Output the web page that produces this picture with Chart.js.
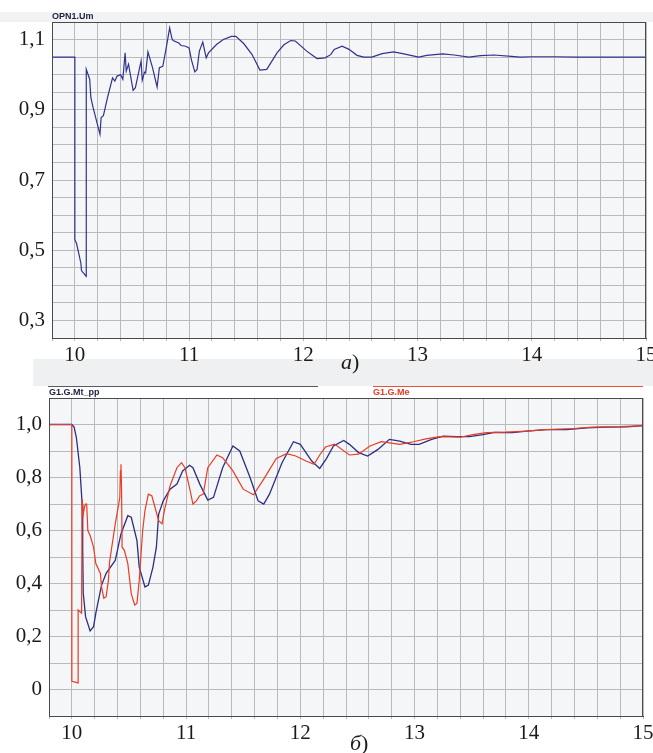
<!DOCTYPE html>
<html>
<head>
<meta charset="utf-8">
<script src="https://cdn.jsdelivr.net/npm/chart.js@4/dist/chart.umd.min.js"></script>
<style>
  html, body { margin:0; padding:0; background:#ffffff; width:653px; height:753px; overflow:hidden; }
  .abs { position:absolute; }
  canvas { position:absolute; left:0; }
  .leg { position:absolute; font-family:"Liberation Sans", Arial, sans-serif; font-weight:bold; font-size:9px; line-height:11px; white-space:nowrap; }
  .cap { position:absolute; font-family:"Liberation Serif", "Times New Roman", serif; font-size:22px; line-height:24px; color:#1a1a1a; }
</style>
</head>
<body>
<div class="abs" style="left:0;top:12px;width:653px;height:10px;background:#f1f2f4;"></div>
<div class="abs" style="left:33px;top:359px;width:620px;height:27px;background:#eff0f2;"></div>
<canvas id="c1" width="653" height="380" style="top:0;"></canvas>
<canvas id="c2" width="653" height="373" style="top:380px;"></canvas>
<div class="leg" style="left:52px;top:11px;color:#1c2040;">OPN1.Um</div>
<div class="abs" style="left:48px;top:386px;width:270px;height:1px;background:#555a66;"></div>
<div class="leg" style="left:49px;top:387px;color:#1c2040;">G1.G.Mt_pp</div>
<div class="abs" style="left:373px;top:386px;width:270px;height:1px;background:#e8503a;"></div>
<div class="leg" style="left:373px;top:387px;color:#e83a22;">G1.G.Me</div>
<div class="cap" style="left:341px;top:350px;"><i>а</i>)</div>
<div class="cap" style="left:350px;top:731px;"><i>б</i>)</div>
<script>
// ---------- data ----------
const xTickLabels = ["10", "11", "12", "13", "14", "15"];
const topYLabels = ["0,3", "0,5", "0,7", "0,9", "1,1"];
const botYLabels = ["0", "0,2", "0,4", "0,6", "0,8", "1,0"];

const umX = [9.8, 10.0, 10.0, 10.015, 10.053, 10.058, 10.096, 10.099, 10.1, 10.13, 10.14, 10.16, 10.22, 10.23, 10.25, 10.29, 10.33, 10.35, 10.37, 10.40, 10.42, 10.44, 10.45, 10.47, 10.51, 10.53, 10.58, 10.59, 10.61, 10.62, 10.64, 10.68, 10.72, 10.74, 10.77, 10.80, 10.83, 10.85, 10.86, 10.91, 10.93, 10.97, 11.0, 11.02, 11.05, 11.07, 11.09, 11.12, 11.15, 11.17, 11.24, 11.30, 11.37, 11.41, 11.48, 11.55, 11.62, 11.68, 11.77, 11.83, 11.89, 11.93, 12.03, 12.12, 12.19, 12.24, 12.27, 12.34, 12.40, 12.47, 12.53, 12.60, 12.69, 12.79, 12.87, 13.01, 13.08, 13.22, 13.32, 13.45, 13.55, 13.67, 13.82, 13.90, 14.0, 14.2, 14.4, 15.0];
const umY = [1.05, 1.05, 0.53, 0.519, 0.463, 0.442, 0.427, 0.425, 1.015, 0.987, 0.935, 0.906, 0.83, 0.878, 0.883, 0.94, 0.991, 0.982, 0.996, 1.0, 0.987, 1.062, 1.01, 1.03, 0.955, 0.963, 1.039, 0.984, 1.007, 1.005, 1.065, 1.02, 0.965, 1.02, 1.024, 1.076, 1.133, 1.103, 1.097, 1.09, 1.083, 1.081, 1.076, 1.043, 1.008, 1.015, 1.067, 1.093, 1.048, 1.062, 1.086, 1.10, 1.109, 1.109, 1.088, 1.058, 1.013, 1.015, 1.062, 1.085, 1.097, 1.096, 1.067, 1.046, 1.048, 1.057, 1.072, 1.081, 1.072, 1.055, 1.05, 1.05, 1.06, 1.065, 1.06, 1.05, 1.055, 1.059, 1.056, 1.05, 1.054, 1.056, 1.052, 1.05, 1.051, 1.051, 1.05, 1.05];

const mtX = [9.8, 10.0, 10.02, 10.04, 10.07, 10.09, 10.095, 10.10, 10.12, 10.16, 10.19, 10.21, 10.26, 10.30, 10.36, 10.38, 10.43, 10.49, 10.52, 10.57, 10.59, 10.64, 10.67, 10.71, 10.74, 10.76, 10.80, 10.86, 10.92, 10.97, 11.03, 11.06, 11.12, 11.19, 11.24, 11.32, 11.41, 11.47, 11.56, 11.63, 11.68, 11.73, 11.84, 11.94, 12.0, 12.10, 12.17, 12.23, 12.29, 12.38, 12.43, 12.51, 12.59, 12.68, 12.78, 12.87, 12.97, 13.04, 13.15, 13.25, 13.37, 13.48, 13.60, 13.70, 13.86, 13.98, 14.15, 14.33, 14.51, 14.68, 14.86, 15.0];
const mtY = [1.0, 1.0, 0.99, 0.95, 0.837, 0.70, 0.53, 0.363, 0.275, 0.221, 0.237, 0.288, 0.394, 0.438, 0.475, 0.487, 0.587, 0.656, 0.65, 0.562, 0.462, 0.387, 0.394, 0.462, 0.537, 0.662, 0.712, 0.756, 0.775, 0.825, 0.846, 0.837, 0.775, 0.715, 0.725, 0.837, 0.919, 0.90, 0.80, 0.712, 0.70, 0.737, 0.856, 0.935, 0.925, 0.862, 0.834, 0.872, 0.919, 0.94, 0.925, 0.894, 0.881, 0.906, 0.944, 0.937, 0.925, 0.925, 0.944, 0.956, 0.954, 0.954, 0.962, 0.97, 0.969, 0.975, 0.981, 0.981, 0.987, 0.99, 0.991, 0.996];

const meX = [9.8, 10.0, 10.0, 10.055, 10.055, 10.07, 10.085, 10.09, 10.10, 10.11, 10.12, 10.13, 10.14, 10.16, 10.19, 10.21, 10.25, 10.26, 10.28, 10.30, 10.32, 10.33, 10.38, 10.41, 10.42, 10.425, 10.43, 10.435, 10.44, 10.46, 10.49, 10.52, 10.55, 10.57, 10.59, 10.62, 10.64, 10.67, 10.70, 10.72, 10.76, 10.79, 10.81, 10.86, 10.92, 10.96, 10.99, 11.03, 11.06, 11.09, 11.12, 11.15, 11.19, 11.27, 11.32, 11.41, 11.50, 11.59, 11.68, 11.79, 11.88, 11.96, 12.05, 12.12, 12.17, 12.22, 12.30, 12.43, 12.51, 12.61, 12.71, 12.87, 12.99, 13.10, 13.22, 13.40, 13.51, 13.63, 13.80, 13.98, 14.15, 14.39, 14.56, 14.80, 15.0];
const meY = [1.0, 1.0, 0.031, 0.025, 0.30, 0.294, 0.288, 0.719, 0.662, 0.687, 0.70, 0.70, 0.60, 0.581, 0.537, 0.475, 0.438, 0.387, 0.344, 0.35, 0.412, 0.481, 0.625, 0.70, 0.725, 0.825, 0.85, 0.762, 0.537, 0.525, 0.475, 0.362, 0.319, 0.325, 0.412, 0.60, 0.675, 0.737, 0.731, 0.70, 0.637, 0.625, 0.675, 0.769, 0.837, 0.856, 0.837, 0.762, 0.70, 0.712, 0.731, 0.737, 0.837, 0.885, 0.875, 0.825, 0.756, 0.735, 0.794, 0.872, 0.89, 0.881, 0.862, 0.85, 0.885, 0.915, 0.926, 0.885, 0.888, 0.919, 0.935, 0.925, 0.935, 0.946, 0.954, 0.952, 0.962, 0.969, 0.971, 0.975, 0.981, 0.985, 0.99, 0.992, 0.996];

// ---------- helpers ----------
const pts = (xs, ys) => xs.map((x, i) => ({ x: x, y: ys[i] }));
const fmt = v => (Math.abs(v) < 1e-9 ? "0" : v.toFixed(1).replace(".", ","));
const tickFont = { family: "'Liberation Serif', 'Times New Roman', serif", size: 21 };

const areaPlugin = {
  id: 'area',
  beforeDraw(chart) {
    const a = chart.chartArea, ctx = chart.ctx;
    ctx.save();
    ctx.fillStyle = '#f5f6f8';
    ctx.fillRect(a.left, a.top, a.right - a.left, a.bottom - a.top);
    ctx.restore();
  },
  afterDraw(chart) {
    const a = chart.chartArea, ctx = chart.ctx;
    ctx.save();
    ctx.strokeStyle = '#4a4a4a';
    ctx.lineWidth = 1;
    ctx.strokeRect(a.left + 0.5, a.top + 0.5, a.right - a.left - 1, a.bottom - a.top);
    ctx.restore();
  }
};

function makeOptions(cfg) {
  return {
    responsive: false,
    animation: false,
    events: [],
    layout: { padding: { left: 0, top: cfg.padTop, right: cfg.padRight, bottom: 0 } },
    plugins: { legend: { display: false }, tooltip: { enabled: false } },
    elements: { point: { radius: 0 }, line: { tension: 0 } },
    scales: {
      x: {
        type: 'linear', min: 9.8, max: 15,
        afterBuildTicks(s) {
          const t = [];
          for (let i = 0; i <= 26; i++) t.push({ value: Math.round((9.8 + i * 0.2) * 10) / 10 });
          s.ticks = t;
        },
        afterFit(s) { s.height = cfg.xH; s.paddingLeft = 0; s.paddingRight = 0; },
        grid: { color: '#b9babd', lineWidth: 1, tickLength: 3, drawTicks: true },
        border: { color: '#4a4a4a', width: 1 },
        ticks: {
          autoSkip: false, maxRotation: 0, padding: 2, color: '#1a1a1a', font: tickFont,
          callback(v) {
            const r = Math.round(v);
            if (Math.abs(v - r) < 1e-6) { const i = xTickLabels.indexOf(String(r)); return i >= 0 ? xTickLabels[i] : ''; }
            return '';
          }
        }
      },
      y: {
        type: 'linear', min: cfg.yMin, max: cfg.yMax,
        afterBuildTicks(s) {
          const t = [];
          const n = Math.round((cfg.yMax - cfg.yMin) / cfg.yStep);
          for (let i = 0; i <= n; i++) t.push({ value: Math.round((cfg.yMin + i * cfg.yStep) * 1000) / 1000 });
          s.ticks = t;
        },
        afterFit(s) { s.width = cfg.yW; s.paddingTop = 0; s.paddingBottom = 0; },
        grid: { color: '#b9babd', lineWidth: 1, drawTicks: false },
        border: { color: '#4a4a4a', width: 1 },
        ticks: {
          autoSkip: false, padding: 7, color: '#1a1a1a', font: tickFont,
          callback(v) {
            if (Math.abs(v * 10 - Math.round(v * 10)) > 1e-6) return '';
            const s = fmt(v);
            return cfg.labels.indexOf(s) >= 0 ? s : '';
          }
        }
      }
    }
  };
}

new Chart(document.getElementById('c1'), {
  type: 'scatter',
  data: {
    datasets: [{
      label: 'OPN1.Um', data: pts(umX, umY), showLine: true,
      borderColor: '#30338c', borderWidth: 1.2, pointRadius: 0, fill: false
    }]
  },
  options: makeOptions({ padTop: 22, padRight: 7, xH: 42, yW: 52, yMin: 0.25, yMax: 1.15, yStep: 0.05, labels: topYLabels }),
  plugins: [areaPlugin]
});

new Chart(document.getElementById('c2'), {
  type: 'scatter',
  data: {
    datasets: [
      { label: 'G1.G.Me', data: pts(meX, meY), showLine: true, borderColor: '#ea3b24', borderWidth: 1.2, pointRadius: 0, fill: false },
      { label: 'G1.G.Mt_pp', data: pts(mtX, mtY), showLine: true, borderColor: '#2c2f80', borderWidth: 1.3, pointRadius: 0, fill: false }
    ]
  },
  options: makeOptions({ padTop: 18, padRight: 10, xH: 37, yW: 49, yMin: -0.1, yMax: 1.1, yStep: 0.1, labels: botYLabels }),
  plugins: [areaPlugin]
});
</script>
</body>
</html>
